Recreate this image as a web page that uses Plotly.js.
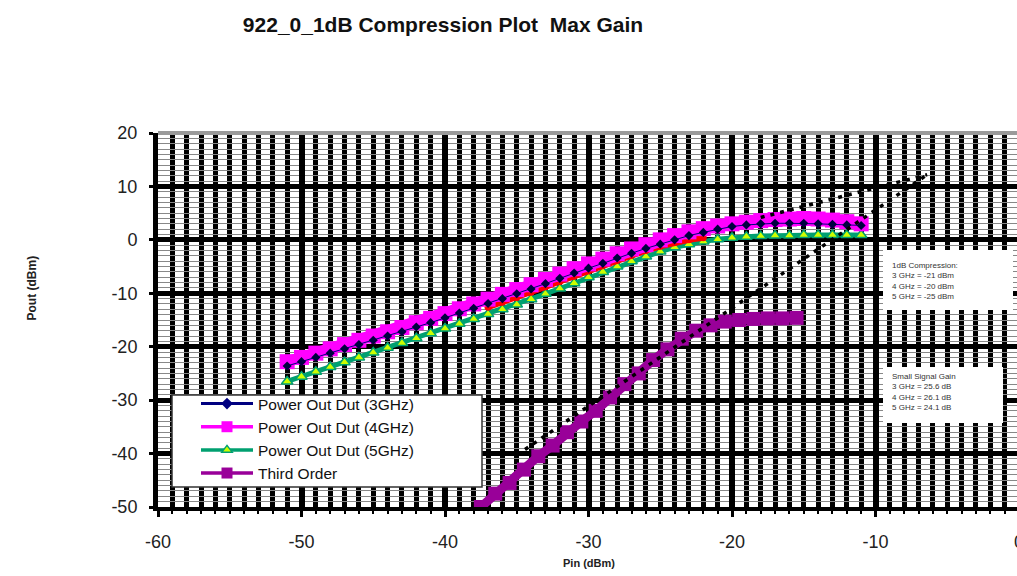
<!DOCTYPE html>
<html>
<head>
<meta charset="utf-8">
<script src="https://cdn.plot.ly/plotly-3.0.1.min.js"></script>
<style>
html,body{margin:0;padding:0;overflow:hidden;background:#fff;}
#chart{width:1030px;height:576px;}
</style>
</head>
<body>
<div id="chart"></div>
<script>
// Input power (dBm) for the fundamental sweeps
const pin = [-51,-50,-49,-48,-47,-46,-45,-44,-43,-42,-41,-40,-39,-38,-37,-36,-35,-34,-33,-32,-31,-30,-29,-28,-27,-26,-25,-24,-23,-22,-21,-20,-19,-18,-17,-16,-15,-14,-13,-12,-11];
const pout3GHz = [-23.6,-22.8,-22.0,-21.2,-20.4,-19.6,-18.8,-18.0,-17.2,-16.3,-15.5,-14.6,-13.7,-12.8,-11.9,-11.0,-10.1,-9.2,-8.2,-7.2,-6.2,-5.3,-4.4,-3.4,-2.5,-1.6,-0.8,0.0,0.8,1.4,2.0,2.5,2.8,3.0,3.1,3.1,3.1,3.0,2.9,2.8,2.7];
const pout4GHz = [-22.8,-22.0,-21.2,-20.4,-19.6,-18.8,-18.0,-17.2,-16.4,-15.5,-14.7,-13.8,-12.9,-12.0,-11.1,-10.2,-9.3,-8.4,-7.4,-6.4,-5.4,-4.5,-3.6,-2.6,-1.7,-0.9,0.0,0.8,1.5,2.1,2.6,3.0,3.3,3.6,3.8,3.9,4.0,3.9,3.7,3.4,3.0];
const pout5GHz = [-26.5,-25.6,-24.7,-23.8,-22.9,-22.0,-21.1,-20.2,-19.3,-18.4,-17.5,-16.6,-15.7,-14.8,-13.9,-13.0,-12.1,-11.1,-10.1,-9.1,-8.1,-7.0,-6.0,-5.0,-4.0,-3.1,-2.2,-1.4,-0.8,-0.3,0.1,0.4,0.6,0.7,0.8,0.8,0.9,0.9,0.9,0.9,0.9];
// unlabeled red series
const pinRed = [-37,-36,-35,-34,-33,-32,-31,-30,-29,-28,-27,-26,-25,-24,-23,-22];
const poutRed = [-12.6,-11.7,-10.8,-9.8,-8.8,-7.8,-6.8,-5.8,-4.8,-3.8,-2.9,-2.0,-1.2,-0.5,0.0,0.4];
// third order product
const pinThird = [-37.5,-36.5,-35.5,-34.5,-33.5,-32.5,-31.5,-30.5,-29.5,-28.5,-27.5,-26.5,-25.5,-24.5,-23.5,-22.5,-21.5,-20.5,-19.5,-18.5,-17.5,-16.5,-15.5];
const poutThird = [-50,-47.5,-45.5,-43,-40.5,-38.5,-36,-34,-32,-29.5,-27,-25,-22.5,-20.5,-18.5,-17,-16,-15.3,-15,-14.8,-14.7,-14.7,-14.6];
// extrapolation lines
const ext3X = [-35,-6.4];
const ext3Y = [-40.3,12.2];
const ext1X = [-18,-6.4];
const ext1Y = [4.2,12.2];

const seriesNames = ['Power Out Dut (3GHz)','Power Out Dut (4GHz)','Power Out Dut (5GHz)','Third Order'];

const xTickVals = [-60,-50,-40,-30,-20,-10,0];
const xTickText = ['-60','-50','-40','-30','-20','-10','0'];
const yTickVals = [20,10,0,-10,-20,-30,-40,-50];
const yTickText = ['20','10','0','-10','-20','-30','-40','-50'];

const FONT = 'Liberation Sans, Arial, sans-serif';

const traces = [
  {x:pin, y:pout5GHz, mode:'lines+markers', showlegend:false,
   line:{color:'#00a070', width:5},
   marker:{symbol:'triangle-up', size:10, color:'#ccff00', line:{color:'#00a070', width:1.5}}},
  {x:pinRed, y:poutRed, mode:'lines+markers', showlegend:false,
   line:{color:'#ff0000', width:6}, marker:{symbol:'circle', size:7, color:'#ff0000'}},
  {x:pin, y:pout4GHz, mode:'lines+markers', showlegend:false,
   line:{color:'#ff00ff', width:11},
   marker:{symbol:'square', size:15, color:'#ff00ff'}},
  {x:pin, y:pout3GHz, mode:'lines+markers', showlegend:false,
   line:{color:'#000080', width:1},
   marker:{symbol:'diamond', size:7, color:'#000040'}},
  {x:pinThird, y:poutThird, mode:'lines+markers', showlegend:false,
   line:{color:'#990099', width:9},
   marker:{symbol:'square', size:14, color:'#990099'}},
  {x:ext3X, y:ext3Y, mode:'lines', showlegend:false, line:{color:'#000', width:3.5, dash:'4px,6px'}},
  {x:ext1X, y:ext1Y, mode:'lines', showlegend:false, line:{color:'#000', width:3.5, dash:'4px,6px'}},
  // legend entries (Excel-style thin line samples)
  {x:[null], y:[null], mode:'lines+markers', name:seriesNames[0], legendrank:1,
   line:{color:'#000080', width:3}, marker:{symbol:'diamond', size:9, color:'#000080'}},
  {x:[null], y:[null], mode:'lines+markers', name:seriesNames[1], legendrank:2,
   line:{color:'#ff00ff', width:3.5}, marker:{symbol:'square', size:11, color:'#ff00ff'}},
  {x:[null], y:[null], mode:'lines+markers', name:seriesNames[2], legendrank:3,
   line:{color:'#00a070', width:3.5}, marker:{symbol:'triangle-up', size:9, color:'#ccff00', line:{color:'#00a070', width:1.5}}},
  {x:[null], y:[null], mode:'lines+markers', name:seriesNames[3], legendrank:4,
   line:{color:'#990099', width:3.5}, marker:{symbol:'square', size:11, color:'#990099'}}
];

const PL = 158, PR = 1019, PT = 133, PB = 507;
const pw = PR-PL, ph = PB-PT;
const px = v => (v-PL)/pw;
const py = v => (PB-v)/ph;

const layout = {
  width:1030, height:576,
  margin:{l:PL, r:1030-PR, t:PT, b:576-PB, pad:0},
  paper_bgcolor:'#fff', plot_bgcolor:'#fff',
  font:{family:FONT, color:'#111'},
  title:{text:'<b>922_0_1dB Compression Plot  Max Gain</b>', font:{size:21, family:FONT, color:'#111'},
    x:443/1030, xref:'container', xanchor:'center', y:1-25/576, yref:'container', yanchor:'middle'},
  xaxis:{range:[-60,0], tickvals:xTickVals, ticktext:xTickText, showgrid:true, gridcolor:'#000', gridwidth:6,
    minor:{dtick:1, tick0:-60, showgrid:true, gridcolor:'#000', gridwidth:5, ticks:'outside', ticklen:3, tickcolor:'#000', tickwidth:2},
    showline:true, linecolor:'#000', linewidth:4, ticks:'outside', ticklen:6, tickwidth:3, tickcolor:'#000',
    zeroline:false, tickfont:{size:18, family:FONT, color:'#222'}, ticklabelstandoff:9, fixedrange:true},
  yaxis:{range:[-50,20], tickvals:yTickVals, ticktext:yTickText, showgrid:true, gridcolor:'#000', gridwidth:5,
    minor:{dtick:1, tick0:-50, showgrid:true, gridcolor:'#888', gridwidth:1},
    showline:true, linecolor:'#000', linewidth:5, ticks:'outside', ticklen:4, tickwidth:3, tickcolor:'#000',
    zeroline:false, tickfont:{size:18, family:FONT, color:'#222'}, ticklabelstandoff:8, fixedrange:true},
  legend:{x:px(196), y:py(387), xanchor:'left', yanchor:'top', bgcolor:'rgba(0,0,0,0)', borderwidth:0,
    font:{size:15.5, family:FONT, color:'#111'}, itemwidth:52, tracegroupgap:0},
  shapes:[
    {type:'line', xref:'paper', yref:'paper', x0:0, x1:1, y0:1, y1:1, line:{color:'#9a9a9a', width:4}, layer:'above'},
    {type:'rect', xref:'paper', yref:'paper', x0:px(172), x1:px(482), y0:py(487), y1:py(395),
      fillcolor:'#fff', line:{color:'#333', width:1.5}, layer:'above'},
    {type:'rect', xref:'paper', yref:'paper', x0:px(883), x1:px(1013), y0:py(310), y1:py(250),
      fillcolor:'#fff', line:{width:0}, layer:'above'},
    {type:'rect', xref:'paper', yref:'paper', x0:px(883), x1:px(1003), y0:py(423), y1:py(367),
      fillcolor:'#fff', line:{width:0}, layer:'above'}
  ],
  annotations:[
    {text:'<b>Pin (dBm)</b>', xref:'x', x:-30, yref:'paper', y:py(563), yanchor:'middle', showarrow:false,
      font:{size:11, family:FONT, color:'#222'}},
    {text:'<b>Pout (dBm)</b>', xref:'paper', x:px(22), yref:'paper', y:py(254), textangle:-90, showarrow:false,
      font:{size:12, family:FONT, color:'#222'}},
    {text:'1dB Compression:<br>3 GHz = -21 dBm<br>4 GHz = -20 dBm<br>5 GHz = -25 dBm', xref:'paper', x:px(890), yref:'paper', y:py(259),
      xanchor:'left', yanchor:'top', align:'left', showarrow:false, font:{size:8, family:FONT, color:'#333'}},
    {text:'Small Signal Gain<br>3 GHz = 25.6 dB<br>4 GHz = 26.1 dB<br>5 GHz = 24.1 dB', xref:'paper', x:px(890), yref:'paper', y:py(370),
      xanchor:'left', yanchor:'top', align:'left', showarrow:false, font:{size:8, family:FONT, color:'#333'}}
  ]
};

Plotly.newPlot('chart', traces, layout, {displayModeBar:false, staticPlot:true});
</script>
</body>
</html>
